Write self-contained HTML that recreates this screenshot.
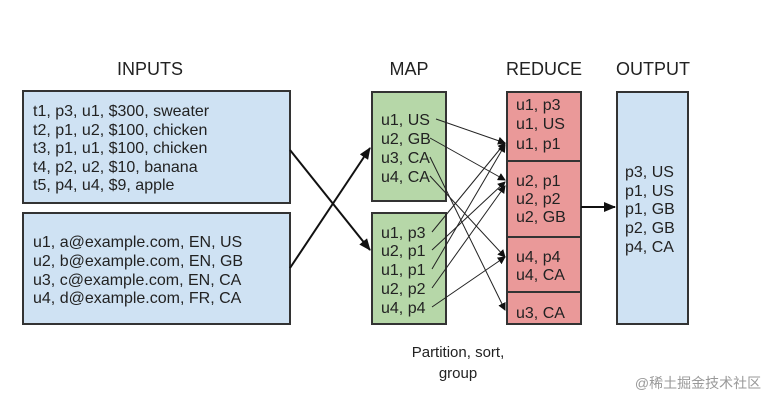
<!DOCTYPE html>
<html><head><style>
body{margin:0;background:#fff;}
svg text{font-family:"Liberation Sans",Arial,sans-serif;fill:#222;}
</style></head><body>
<svg width="784" height="405" viewBox="0 0 784 405" xmlns="http://www.w3.org/2000/svg">
<defs><marker id="a" markerWidth="8" markerHeight="8" refX="7" refY="4" orient="auto" markerUnits="userSpaceOnUse"><path d="M0,0 L8,4 L0,8 z" fill="#111"/></marker>
<marker id="b" markerWidth="12" markerHeight="10" refX="11" refY="5" orient="auto" markerUnits="userSpaceOnUse"><path d="M0,0 L12,5 L0,10 z" fill="#111"/></marker></defs>
<g font-size="18" text-anchor="middle">
<text x="150" y="75">INPUTS</text><text x="409" y="75">MAP</text><text x="544" y="75">REDUCE</text><text x="653" y="75">OUTPUT</text>
</g>
<g stroke="#333" stroke-width="2">
<rect x="23" y="91" width="267" height="112" fill="#cfe2f3"/>
<rect x="23" y="213" width="267" height="111" fill="#cfe2f3"/>
<rect x="372" y="92" width="74" height="109" fill="#b6d7a8"/>
<rect x="372" y="213" width="74" height="111" fill="#b6d7a8"/>
<rect x="507" y="92" width="74" height="232" fill="#ea9999"/>
<line x1="507" y1="161" x2="581" y2="161"/><line x1="507" y1="237" x2="581" y2="237"/><line x1="507" y1="292" x2="581" y2="292"/>
<rect x="617" y="92" width="71" height="232" fill="#cfe2f3"/>
</g>
<g font-size="16">
<text x="33" y="116">t1, p3, u1, $300, sweater</text>
<text x="33" y="135">t2, p1, u2, $100, chicken</text>
<text x="33" y="153">t3, p1, u1, $100, chicken</text>
<text x="33" y="172">t4, p2, u2, $10, banana</text>
<text x="33" y="190">t5, p4, u4, $9, apple</text>
<text x="33" y="247">u1, a@example.com, EN, US</text>
<text x="33" y="266">u2, b@example.com, EN, GB</text>
<text x="33" y="285">u3, c@example.com, EN, CA</text>
<text x="33" y="303">u4, d@example.com, FR, CA</text>
<text x="381" y="125">u1, US</text><text x="381" y="144">u2, GB</text><text x="381" y="163">u3, CA</text><text x="381" y="182">u4, CA</text>
<text x="381" y="238">u1, p3</text><text x="381" y="256">u2, p1</text><text x="381" y="275">u1, p1</text><text x="381" y="294">u2, p2</text><text x="381" y="313">u4, p4</text>
<text x="516" y="110">u1, p3</text><text x="516" y="129">u1, US</text><text x="516" y="149">u1, p1</text>
<text x="516" y="186">u2, p1</text><text x="516" y="204">u2, p2</text><text x="516" y="222">u2, GB</text>
<text x="516" y="262">u4, p4</text><text x="516" y="280">u4, CA</text>
<text x="516" y="318">u3, CA</text>
<text x="625" y="177">p3, US</text><text x="625" y="196">p1, US</text><text x="625" y="214">p1, GB</text><text x="625" y="233">p2, GB</text><text x="625" y="252">p4, CA</text>
</g>
<g font-size="15" text-anchor="middle"><text x="458" y="357">Partition, sort,</text><text x="458" y="378">group</text></g>
<text x="698" y="388" font-size="14" text-anchor="middle" style="fill:#999;font-family:'Liberation Sans','Noto Sans CJK SC',sans-serif">@稀土掘金技术社区</text>
<g stroke="#111" stroke-width="2" fill="none">
<line x1="290" y1="150" x2="370" y2="250" marker-end="url(#b)"/>
<line x1="290" y1="268" x2="370" y2="148" marker-end="url(#b)"/>
<line x1="581" y1="207" x2="615" y2="207" marker-end="url(#b)"/>
</g>
<g stroke="#222" stroke-width="1" fill="none" marker-end="url(#a)">
<line x1="436" y1="119" x2="505" y2="143"/>
<line x1="430" y1="138" x2="505" y2="180"/>
<line x1="430" y1="157" x2="505" y2="310"/>
<line x1="430" y1="176" x2="505" y2="257"/>
<line x1="432" y1="232" x2="505" y2="143"/>
<line x1="432" y1="250" x2="505" y2="182"/>
<line x1="432" y1="269" x2="505" y2="145"/>
<line x1="432" y1="288" x2="505" y2="186"/>
<line x1="432" y1="307" x2="505" y2="257"/>
</g>
</svg>
</body></html>
